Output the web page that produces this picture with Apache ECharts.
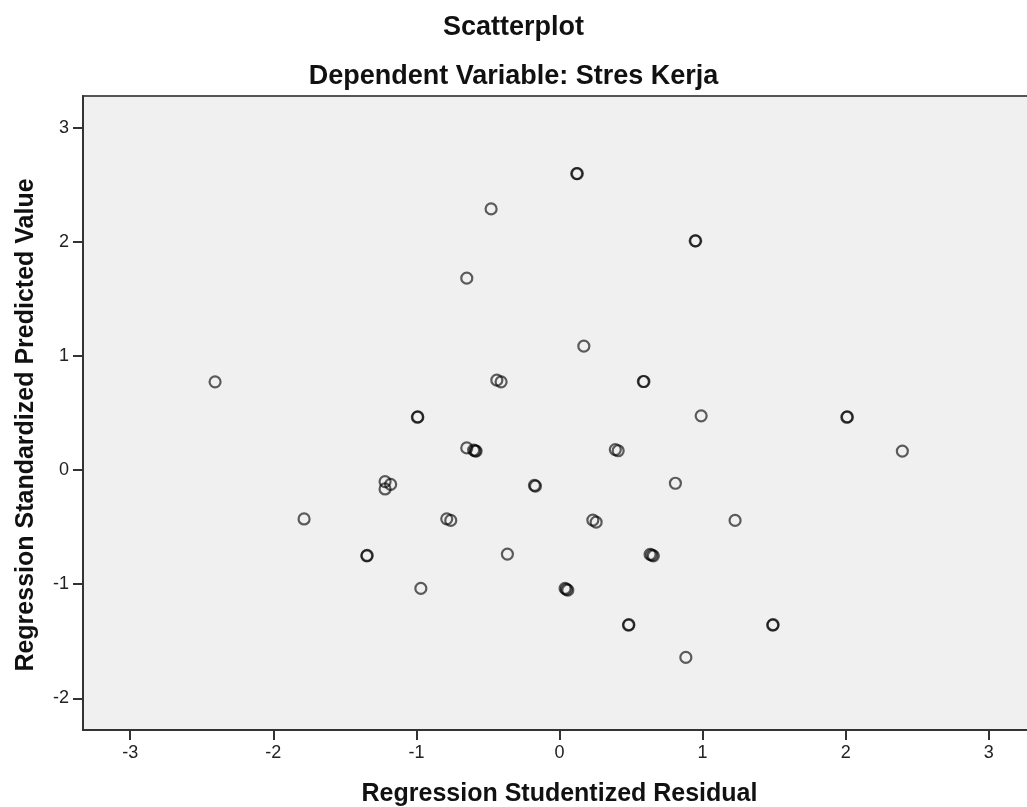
<!DOCTYPE html>
<html>
<head>
<meta charset="utf-8">
<script src="https://cdn.jsdelivr.net/npm/echarts@6/dist/echarts.min.js"></script>
<style>
html,body{margin:0;padding:0;background:#fff;}
#chart{width:1027px;height:807px;}
</style>
</head>
<body>
<div id="chart"></div>
<script>
// Regression Studentized Residual (x) and Standardized Predicted Value (y)
const residuals = [
  0.12, 0.125, -0.478, 0.948, 0.952, -0.648, 0.17, -0.438, -0.408, 0.586, 0.59,
  -2.407, -0.993, -0.99, 0.99, 2.008, 2.012, -0.648, -0.60, -0.583, -0.59, 0.39, 0.41,
  2.396, -1.219, -1.18, -1.219, -0.175, -0.168, 0.81, -1.785, -0.788, -0.76,
  0.233, 0.256, 1.227, -1.347, -1.344, -0.364, 0.633, 0.656, 0.645, -0.969, 0.039, 0.058, 0.048,
  0.482, 0.485, 1.49, 1.493, 0.883
];
const predicted = [
  2.60, 2.60, 2.29, 2.01, 2.01, 1.683, 1.087, 0.789, 0.774, 0.777, 0.777,
  0.774, 0.464, 0.467, 0.476, 0.464, 0.467, 0.195, 0.175, 0.167, 0.17, 0.18, 0.17,
  0.167, -0.10, -0.125, -0.165, -0.134, -0.14, -0.115, -0.428, -0.427, -0.441,
  -0.438, -0.456, -0.441, -0.751, -0.748, -0.736, -0.739, -0.751, -0.745, -1.037, -1.037, -1.052, -1.045,
  -1.358, -1.355, -1.358, -1.355, -1.642
];
const xTicks = [-3, -2, -1, 0, 1, 2, 3];
const yTicks = [-2, -1, 0, 1, 2, 3];
const titleText = 'Scatterplot';
const subtitleText = 'Dependent Variable: Stres Kerja';
const xName = 'Regression Studentized Residual';
const yName = 'Regression Standardized Predicted Value';

const points = residuals.map((x, i) => [x, predicted[i]]);
const FONT = '"Liberation Sans", Arial, sans-serif';

const chart = echarts.init(document.getElementById('chart'), null, {renderer: 'canvas'});
chart.setOption({
  animation: false,
  backgroundColor: '#ffffff',
  title: [
    {text: titleText, left: 'center', top: 9,
     textStyle: {fontFamily: FONT, fontSize: 27, fontWeight: 'bold', color: '#111'}},
    {text: subtitleText, left: 'center', top: 58, padding: [5, 5, 5, 13],
     textStyle: {fontFamily: FONT, fontSize: 27, fontWeight: 'bold', color: '#111'}}
  ],
  grid: {
    left: 83, top: 96, width: 953, height: 634,
    show: true, backgroundColor: '#f0f0f0', borderColor: '#555', borderWidth: 2,
    containLabel: false, outerBoundsMode: 'none'
  },
  xAxis: {
    type: 'value', min: -3.33, max: 3.33,
    name: xName, nameLocation: 'middle', nameGap: 52,
    nameTextStyle: {fontFamily: FONT, fontSize: 25, fontWeight: 'bold', color: '#111'},
    splitLine: {show: false},
    axisLine: {show: true, onZero: false, lineStyle: {color: '#333', width: 2}},
    axisTick: {show: true, customValues: xTicks, length: 10, lineStyle: {color: '#333', width: 2}},
    axisLabel: {customValues: xTicks, margin: 14, fontFamily: FONT, fontSize: 18, color: '#222'}
  },
  yAxis: {
    type: 'value', min: -2.278, max: 3.28,
    name: yName, nameLocation: 'middle', nameGap: 44,
    nameTextStyle: {fontFamily: FONT, fontSize: 25, fontWeight: 'bold', color: '#111', padding: [0, 24, 0, 0]},
    splitLine: {show: false},
    axisLine: {show: true, onZero: false, lineStyle: {color: '#333', width: 2}},
    axisTick: {show: true, customValues: yTicks, length: 10, lineStyle: {color: '#333', width: 2}},
    axisLabel: {customValues: yTicks, margin: 14, fontFamily: FONT, fontSize: 18, color: '#222'}
  },
  series: [{
    type: 'scatter',
    data: points,
    symbol: 'circle',
    symbolSize: 11,
    itemStyle: {color: 'rgba(0,0,0,0)', borderColor: 'rgba(0,0,0,0.78)', borderWidth: 2.2}
  }]
});
</script>
</body>
</html>
